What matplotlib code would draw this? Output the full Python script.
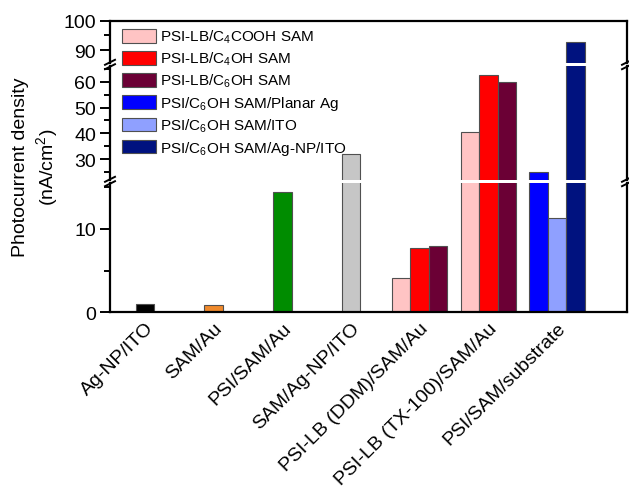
import matplotlib
matplotlib.use("Agg")
import matplotlib.pyplot as plt
from matplotlib.patches import Patch
from matplotlib.lines import Line2D
import numpy as np

plt.rcParams['font.family'] = ['Liberation Sans', 'DejaVu Sans']
plt.rcParams['mathtext.default'] = 'regular'

categories = ["Ag-NP/ITO", "SAM/Au", "PSI/SAM/Au", "SAM/Ag-NP/ITO",
              "PSI-LB (DDM)/SAM/Au", "PSI-LB (TX-100)/SAM/Au", "PSI/SAM/substrate"]
single_values = [1.0, 0.9, 14.4, 31.8]
single_colors = ["#000000", "#F08A2C", "#008C00", "#C6C6C6"]

series_ddm_tx = {
    "PSI-LB/C$_4$COOH SAM": [4.1, 40.4],
    "PSI-LB/C$_4$OH SAM": [7.7, 62.6],
    "PSI-LB/C$_6$OH SAM": [7.9, 59.8],
}
series_substrate = {
    "PSI/C$_6$OH SAM/Planar Ag": 25.1,
    "PSI/C$_6$OH SAM/ITO": 11.3,
    "PSI/C$_6$OH SAM/Ag-NP/ITO": 92.8,
}
group_colors = ["#FFC4C4", "#FF0000", "#6B0035"]
sub_colors = ["#0000FF", "#8FA0FF", "#00127F"]

W, H = 629, 489
fig = plt.figure(figsize=(W / 100, H / 100), dpi=100)

def fy(px):
    return 1 - px / H

left = 110 / W
width = (627 - 110) / W
segs = [  # (top_px, bottom_px, ylim)
    (21.7, 64, (85.6, 100)),
    (67, 181, (21.9, 66.1)),
    (184, 313.3, (0, 15.5)),
]
axes = []
for top_px, bot_px, yl in segs:
    ax = fig.add_axes([left, fy(bot_px), width, (bot_px - top_px) / H])
    ax.set_ylim(*yl)
    axes.append(ax)
ax_top, ax_mid, ax_low = axes

FS = 14
bw = 0.27
x = np.arange(len(categories))
edge = "#505050"
for ax in axes:
    ax.set_xlim(-0.51, 7.02)
    ax.bar(x[:4], single_values, width=bw, color=single_colors, edgecolor=edge, linewidth=0.8)
    for i, (lab, vals) in enumerate(series_ddm_tx.items()):
        ax.bar(x[4:6] + (i - 1) * bw, vals, width=bw, color=group_colors[i],
               edgecolor=edge, linewidth=0.8)
    for i, (lab, val) in enumerate(series_substrate.items()):
        ax.bar(x[6] + (i - 1) * bw, val, width=bw, color=sub_colors[i],
               edgecolor=edge, linewidth=0.8)
    for s in ax.spines.values():
        s.set_linewidth(1.6)
    ax.tick_params(axis='y', which='major', length=7, width=1.4, labelsize=FS,
                   direction='out', pad=3)
    ax.tick_params(axis='y', which='minor', length=4, width=1.4, direction='out')
    ax.tick_params(axis='x', length=0)
    ax.spines['top'].set_visible(False)
    ax.spines['bottom'].set_visible(False)

ax_top.spines['top'].set_visible(True)
ax_low.spines['bottom'].set_visible(True)

ax_top.set_yticks([90, 100])
ax_top.set_yticks([95], minor=True)
ax_mid.set_yticks([30, 40, 50, 60])
ax_mid.set_yticks([25, 35, 45, 55, 65], minor=True)
ax_low.set_yticks([0, 10])
ax_low.set_yticks([5, 15], minor=True)

for ax in (ax_top, ax_mid):
    ax.set_xticks([])
ax_low.set_xticks(x)
ax_low.set_xticklabels(categories, rotation=45, ha='right', va='top',
                       rotation_mode='anchor', fontsize=14)
ax_low.tick_params(axis='x', pad=5)

# break marks
for ybrk in (65.5, 182.5):
    for xs in (110, 627):
        for dy in (-2.2, 2.2):
            y0 = ybrk + dy
            fig.add_artist(Line2D([(xs - 5) / W, (xs + 5) / W],
                                  [fy(y0 + 2.5), fy(y0 - 2.5)],
                                  transform=fig.transFigure, color='black', lw=1.4))

fig.text(36 / W, fy(167), "Photocurrent density\n(nA/cm$^2$)", rotation=90,
         ha='center', va='center', multialignment='center', fontsize=FS,
         linespacing=1.25)

labels = list(series_ddm_tx.keys()) + list(series_substrate.keys())
colors = group_colors + sub_colors
handles = [Patch(facecolor=c, edgecolor=edge, linewidth=0.8) for c in colors]
fig.legend(handles, labels, loc='upper left', bbox_to_anchor=(119 / W, fy(26)),
           frameon=False, fontsize=11, handlelength=2.2, handleheight=1.0,
           handletextpad=0.3, labelspacing=0.3, borderaxespad=0, borderpad=0.2)

fig.savefig("out.png", dpi=100)
